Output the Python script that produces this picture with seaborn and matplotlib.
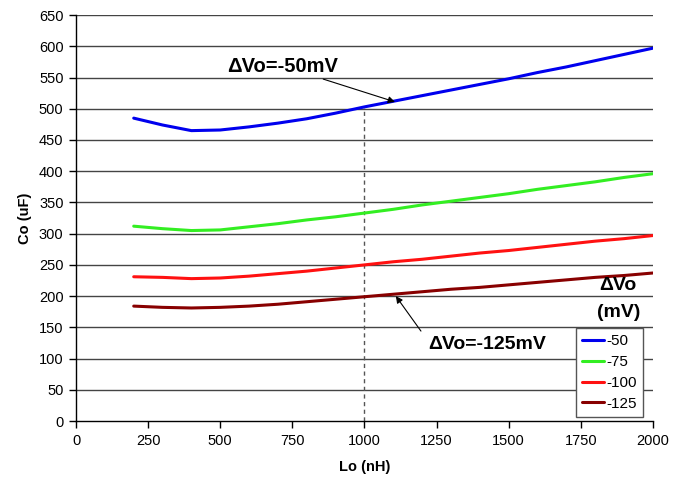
import matplotlib
matplotlib.use("Agg")
import matplotlib.pyplot as plt
import seaborn as sns
import pandas as pd

lo_nh = [200, 300, 400, 500, 600, 700, 800, 900, 1000, 1100, 1200, 1300, 1400, 1500, 1600, 1700, 1800, 1900, 2000]
co_50 = [485, 474, 465, 466, 471, 477, 484, 493, 503, 512, 521, 530, 539, 548, 558, 567, 577, 587, 597]
co_75 = [312, 308, 305, 306, 311, 316, 322, 327, 333, 339, 346, 352, 358, 364, 371, 377, 383, 390, 396]
co_100 = [231, 230, 228, 229, 232, 236, 240, 245, 250, 255, 259, 264, 269, 273, 278, 283, 288, 292, 297]
co_125 = [184, 182, 181, 182, 184, 187, 191, 195, 199, 203, 207, 211, 214, 218, 222, 226, 230, 233, 237]
series_labels = ["-50", "-75", "-100", "-125"]
colors = ["#0000ee", "#33ee22", "#ff1111", "#880000"]

rows = []
for lab, vals in zip(series_labels, [co_50, co_75, co_100, co_125]):
    for x, y in zip(lo_nh, vals):
        rows.append({"Lo": x, "Co": y, "dVo": lab})
df = pd.DataFrame(rows)

sns.set_style("white")
plt.rcParams['font.family'] = ['Liberation Sans', 'DejaVu Sans']
plt.rcParams['text.color'] = 'black'
plt.rcParams['axes.labelcolor'] = 'black'
plt.rcParams['xtick.color'] = 'black'
plt.rcParams['ytick.color'] = 'black'

fig = plt.figure(figsize=(6.73, 4.87), dpi=100)
ax = fig.add_axes([0.113, 0.1355, 0.857, 0.8335])

for y in range(50, 651, 50):
    ax.axhline(y, color="#444444", lw=1.0, zorder=0)

sns.lineplot(data=df, x="Lo", y="Co", hue="dVo", palette=dict(zip(series_labels, colors)),
             hue_order=series_labels, lw=2.2, ax=ax, legend=True)

ax.vlines(1000, 0, 503, colors="#555555", linestyles=(0, (3, 2.5)), lw=1.0, zorder=1)

ax.set_xlim(0, 2000)
ax.set_ylim(0, 650)
ax.set_xticks(range(0, 2001, 250))
ax.set_yticks(range(0, 651, 50))
ax.tick_params(axis="both", which="both", direction="out", length=5, width=1, color="black",
               labelcolor="black", labelsize=10.5, left=True, bottom=True, pad=4)
for s in ["top", "right"]:
    ax.spines[s].set_visible(False)
for s in ["left", "bottom"]:
    ax.spines[s].set_color("black")
    ax.spines[s].set_linewidth(1)

ax.set_xlabel("Lo (nH)", fontsize=10.5, fontweight="bold", labelpad=9, color="black")
ax.set_ylabel("Co (uF)", fontsize=10.5, fontweight="bold", labelpad=5, color="black")

arrow_kw = dict(arrowstyle="-|>", color="black", lw=0.8, mutation_scale=10, shrinkA=0, shrinkB=0)
ax.annotate("ΔVo=-50mV", xy=(1106, 511), xytext=(910, 568), fontsize=14.5, fontweight="bold",
            ha="right", va="center", color="black", arrowprops=arrow_kw)
ax.annotate("", xy=(1109, 200), xytext=(1196, 144), arrowprops=arrow_kw)
ax.text(1425, 122, "ΔVo=-125mV", fontsize=14, fontweight="bold", ha="center", va="center", color="black")

ax.text(1880, 217, "ΔVo", fontsize=14, fontweight="bold", ha="center", va="center", color="black")
ax.text(1880, 173, "(mV)", fontsize=14, fontweight="bold", ha="center", va="center", color="black")

leg = ax.legend(loc="lower right", bbox_to_anchor=(0.983, 0.01), fontsize=11, frameon=True,
                fancybox=False, handlelength=1.45, handletextpad=0.15, borderpad=0.4,
                labelspacing=0.45, borderaxespad=0)
leg.get_frame().set_edgecolor("#555555")
leg.get_frame().set_linewidth(1)
leg.get_frame().set_facecolor("white")
leg.get_frame().set_alpha(1)
for t in leg.get_texts():
    t.set_color("black")

fig.savefig("out.png", dpi=100)
